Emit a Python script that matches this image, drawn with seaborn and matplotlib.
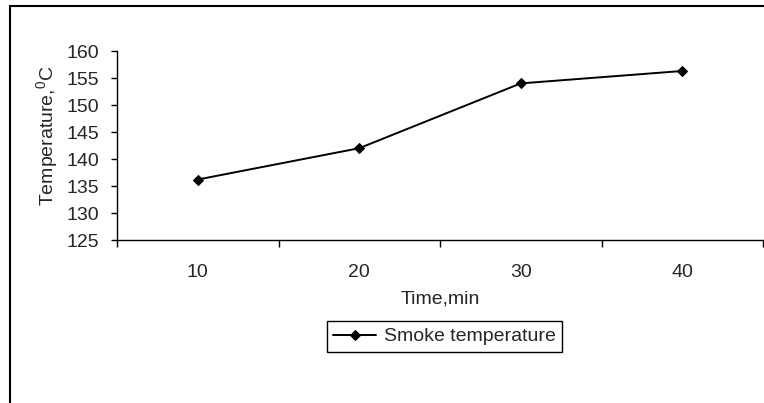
import matplotlib
matplotlib.use("Agg")
import matplotlib.pyplot as plt
from matplotlib.patches import Rectangle
from matplotlib.ticker import FixedLocator
import seaborn as sns
import pandas as pd

# Smoke temperature readings over time
time_labels = ["10", "20", "30", "40"]
smoke_temp = [136.2, 142.0, 154.0, 156.3]
y_ticks = [125, 130, 135, 140, 145, 150, 155, 160]

sns.set_style("white")
plt.rcParams["font.family"] = ["Liberation Sans", "DejaVu Sans"]
plt.rcParams["mathtext.fontset"] = "custom"
plt.rcParams["mathtext.rm"] = "Liberation Sans"
plt.rcParams["mathtext.it"] = "Liberation Sans"

FS = 14

df = pd.DataFrame({"Time": time_labels, "Temp": smoke_temp})

W, H = 764, 403
fig = plt.figure(figsize=(W / 100, H / 100), dpi=100)
ax = fig.add_axes([117 / W, 1 - 240 / H, (763 - 117) / W, (240 - 51) / H])

sns.lineplot(data=df, x="Time", y="Temp", ax=ax, color="black", linewidth=1.4,
             marker="D", markersize=5.5, markeredgecolor="black",
             label="Smoke temperature", legend=False)

ax.set_ylim(125, 160)
ax.set_yticks(y_ticks)
ax.set_xlim(-0.5, 3.5)
ax.set_xticks(range(len(time_labels)))
ax.set_xticklabels(time_labels)
ax.xaxis.set_minor_locator(FixedLocator([-0.5, 0.5, 1.5, 2.5, 3.5]))

for side in ("top", "right"):
    ax.spines[side].set_visible(False)
for side in ("left", "bottom"):
    ax.spines[side].set_color("black")
    ax.spines[side].set_linewidth(1.0)

ax.tick_params(axis="y", which="major", direction="out", length=4, width=1,
               color="black", labelsize=FS, pad=9, left=True)
ax.tick_params(axis="x", which="major", length=0, labelsize=FS, pad=17)
ax.tick_params(axis="x", which="minor", direction="out", length=5, width=1,
               color="black", bottom=True)

ax.set_xlabel("Time,min", fontsize=FS, labelpad=7)
ax.set_ylabel(r"Temperature,$^{0}$C", fontsize=FS)
ax.yaxis.set_label_coords(-0.088, 0.55)

leg = fig.legend(*ax.get_legend_handles_labels(), loc="center",
                 bbox_to_anchor=(444.5 / W, 1 - 336.5 / H), fontsize=FS,
                 frameon=True, fancybox=False, framealpha=1, edgecolor="black",
                 handlelength=2.2, handletextpad=0.4, borderpad=0.33,
                 borderaxespad=0)
leg.get_frame().set_linewidth(1.0)

# Outer chart frame (left and top edges visible)
fig.add_artist(Rectangle((9.5 / W, -0.1), 1.2, 1 - 6.5 / H + 0.1,
                         transform=fig.transFigure, fill=False,
                         edgecolor="black", linewidth=1.5, clip_on=False))

fig.savefig("out.png", dpi=100, facecolor="white")
